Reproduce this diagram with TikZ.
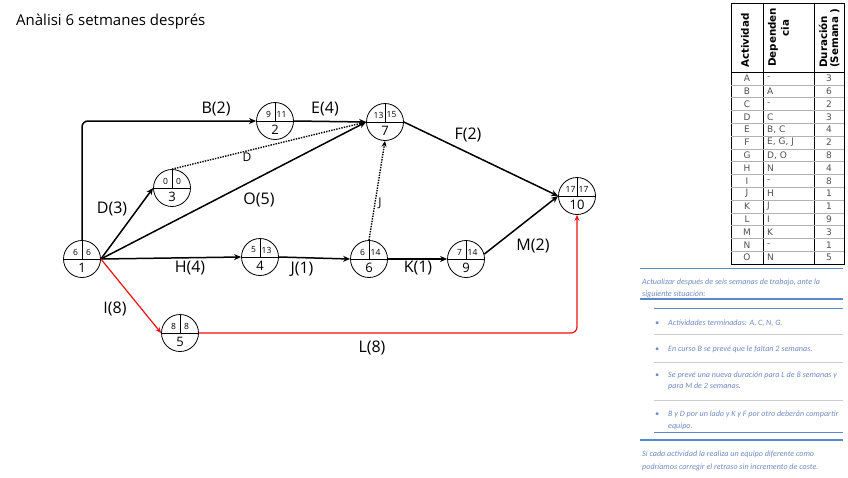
\documentclass[tikz,border=0pt]{standalone}
\usepackage{fontspec}
\setmainfont{Open Sans}
\newfontfamily\tabfont{DejaVu Sans}
\newfontfamily\notefont{Carlito}
\usetikzlibrary{arrows.meta}
\definecolor{notecol}{HTML}{6F8BC6}
\definecolor{noteline}{HTML}{5B87CC}
\definecolor{critred}{HTML}{F01010}
\definecolor{tabgray}{HTML}{505050}
\tikzset{
 ev/.style={circle, draw, line width=0.8pt, minimum size=37pt, inner sep=0pt},
 divl/.style={line width=0.5pt},
 topnum/.style={font=\fontsize{8.5}{9}\selectfont, inner sep=0pt},
 botnum/.style={font=\fontsize{13}{14}\selectfont, inner sep=0pt},
 act/.style={line width=1.5pt, -{Stealth[length=7pt,width=6pt]}},
 dum/.style={line width=1.4pt, dash pattern=on 1.4pt off 1.2pt, -{Stealth[length=6pt,width=5pt]}},
 crit/.style={line width=1.2pt, draw=critred, -{Stealth[length=6pt,width=5pt]}},
 elab/.style={font=\fontsize{16}{18}\selectfont, inner sep=0pt},
 dlab/.style={font=\fontsize{12}{14}\selectfont, inner sep=0pt},
 note/.style={font=\notefont\itshape\fontsize{8.1}{9}\selectfont, text=notecol, inner sep=0pt, anchor=base west},
 hdr/.style={font=\tabfont\bfseries\fontsize{10.3}{11}\selectfont, rotate=90, inner sep=0pt},
 cell/.style={font=\tabfont\fontsize{9}{10}\selectfont, text=tabgray, inner sep=0pt},
}
\newcommand\evnode[6]{%
  \node[ev] (#1) at (#2,#3) {};
  \draw[divl] (#1.west) -- (#1.east) (#1.north) -- (#1.center);
  \node[topnum] at ([shift={(-6.5,-7)}]#1.center) {#4};
  \node[topnum] at ([shift={(6.5,-7)}]#1.center) {#5};
  \node[botnum] at ([shift={(0,8.5)}]#1.center) {#6};
}
\begin{document}
\begin{tikzpicture}[x=1pt,y=-1pt]
\useasboundingbox (0,0) rectangle (848,477);
% title
\node[anchor=west, inner sep=0pt, font=\fontsize{15}{18}\selectfont] (title) at (16,22) {Anàlisi 6 setmanes després};
% events
\evnode{n1}{82}{259}{6}{6}{1}
\evnode{n2}{275}{121}{9}{11}{2}
\evnode{n3}{172}{188}{0}{0}{3}
\evnode{n7}{385}{122}{13}{15}{7}
\evnode{n4}{260}{257}{5}{13}{4}
\evnode{n6}{369}{259}{6}{14}{6}
\evnode{n9}{466}{259}{7}{14}{9}
\evnode{n10}{577}{196}{17}{17}{10}
\evnode{n5}{180}{333}{8}{8}{5}
% activities
\draw[act, rounded corners=6pt] (n1.north) |- (n2.west);
\draw[act] (n2.east) -- (n7.west);
\draw[dum] (n3.north) -- (n7.west);
\draw[act] (n1.east) -- (n7.west);
\draw[act] (n1.east) -- (n3.west);
\draw[act] (n1.east) -- (n4.west);
\draw[act] (n4.east) -- (n6.west);
\draw[dum] (n6.north) -- (n7.south);
\draw[act] (n6.east) -- (n9.west);
\draw[act] (n9.15) -- (n10.west);
\draw[act] (n7.east) -- (n10.west);
\draw[crit] (n1.east) -- (n5.west);
\draw[crit, rounded corners=6pt] (n5.east) -| (n10.south);
% labels
\node[elab] (lB) at (216,109) {B(2)};
\node[elab] (lE) at (325,109) {E(4)};
\node[dlab] (lD) at (247,157) {D};
\node[elab] (lO) at (259,200) {O(5)};
\node[elab] (lD3) at (112,209) {D(3)};
\node[dlab] (lJ) at (380,203) {J};
\node[elab] (lF) at (468,135) {F(2)};
\node[elab] (lM) at (533,246) {M(2)};
\node[elab] (lH) at (190,268) {H(4)};
\node[elab] (lJ1) at (302,269) {J(1)};
\node[elab] (lK) at (418,268) {K(1)};
\node[elab] (lI) at (115,309) {I(8)};
\node[elab] (lL) at (372,348) {L(8)};
% table
\draw[line width=0.8pt] (731,3) rectangle (844,264);
\draw[line width=0.6pt] (763,3) -- (763,264) (814,3) -- (814,264);
\draw[line width=1pt] (731,72) -- (844,72);
\foreach \k in {1,...,14} \draw[gray!60, line width=0.5pt] (731,72+12.8*\k) -- (844,72+12.8*\k);
\node[hdr, anchor=west] (h1) at (745,68) {Actividad};
\node[hdr, anchor=west] (h2) at (773,67) {Dependen};
\node[hdr] (h2b) at (785,28) {cia};
\node[hdr, anchor=west] (h3) at (823,68) {Duración};
\node[hdr, anchor=west] (h3b) at (835,68) {(Semana )};
\foreach \ac/\dep/\du [count=\i from 0] in {A/-/3, B/A/6, C/-/2, D/C/3, E/{B, C}/4, F/{E, G, J}/2, G/{D, O}/8, H/N/4, I/-/8, J/H/1, K/J/1, L/I/9, M/K/3, N/-/1, O/N/5} {
  \node[cell] at (747, 78.4+12.8*\i) {\ac};
  \node[cell, anchor=west] at (767, 78.4+12.8*\i) {\dep};
  \node[cell] at (829, 78.4+12.8*\i) {\du};
}
% note panel
\draw[noteline, line width=0.9pt] (640,268) -- (843,268);
\node[note] (t1) at (642,284) {Actualizar después de seis semanas de trabajo, ante la};
\node[note] (t2) at (642,296) {siguiente situación:};
\draw[noteline, line width=1.4pt] (640,299) -- (843,299);
\draw[noteline, line width=0.9pt] (654,308) -- (843,308);
\node[note] (b1d) at (655,325) {•};
\node[note] (b1) at (668,325) {Actividades terminadas: A, C, N, G.};
\draw[gray!40, line width=0.5pt] (654,334) -- (843,334);
\node[note] (b2d) at (655,351) {•};
\node[note] (b2) at (668,351) {En curso B se prevé que le faltan 2 semanas.};
\draw[gray!40, line width=0.5pt] (654,362) -- (843,362);
\node[note] (b3d) at (655,377) {•};
\node[note] (b3) at (668,377) {Se prevé una nueva duración para L de 8 semanas y};
\node[note] (b3b) at (668,388) {para M de 2 semanas.};
\draw[gray!40, line width=0.5pt] (654,400) -- (843,400);
\node[note] (b4d) at (655,416) {•};
\node[note] (b4) at (668,416) {B y D por un lado y K y F por otro deberán compartir};
\node[note] (b4b) at (668,428) {equipo.};
\draw[noteline, line width=0.9pt] (654,432) -- (843,432);
\draw[noteline, line width=1.4pt] (640,440) -- (843,440);
\node[note] (t3) at (642,456) {Si cada actividad la realiza un equipo diferente como};
\node[note] (t4) at (642,469) {podríamos corregir el retraso sin incremento de coste.};
\end{tikzpicture}
\end{document}
